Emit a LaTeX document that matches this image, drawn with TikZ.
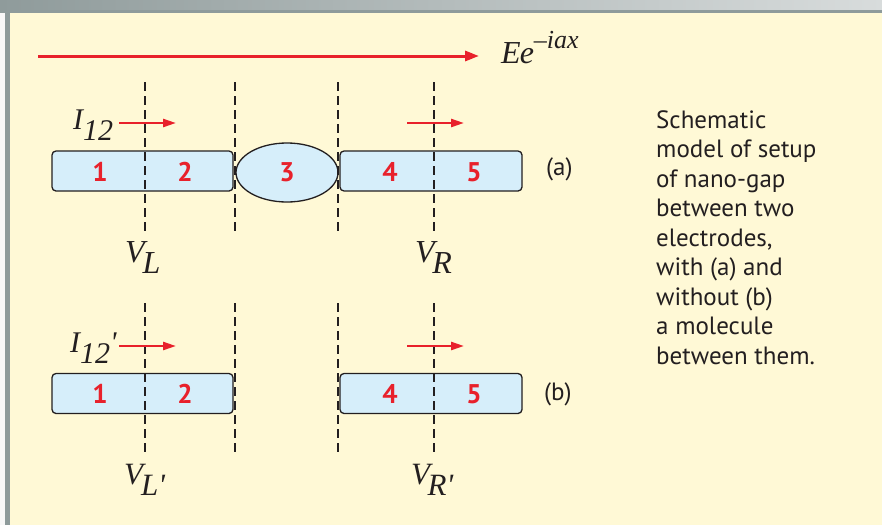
\documentclass[tikz,border=0pt]{standalone}
\usepackage{fontspec}
\setmainfont{Liberation Serif}
\newfontfamily\sansf{PT Sans}
\usetikzlibrary{arrows.meta,shapes.geometric}
\definecolor{bg}{HTML}{FFF9D6}
\definecolor{boxfill}{HTML}{D6EEFA}
\definecolor{redc}{HTML}{E8212B}
\definecolor{frame}{HTML}{8E9B9B}
\definecolor{frameL}{HTML}{8F9B9B}
\definecolor{frameR}{HTML}{D8DCDC}
\definecolor{edge}{HTML}{F8F8F8}
\definecolor{ink}{HTML}{231F20}
\begin{document}
\begin{tikzpicture}[x=1pt,y=-1pt,
  elec/.style={draw=ink,line width=1.3pt,fill=boxfill,rounded corners=4pt,inner sep=0pt,minimum height=40pt},
  mol/.style={ellipse,draw=ink,line width=1.3pt,fill=boxfill,inner sep=0pt,minimum width=102pt,minimum height=59pt},
  num/.style={text=redc,inner sep=0pt,font=\sansf\bfseries\fontsize{27}{27}\selectfont},
  probe/.style={draw=ink,line width=1.1pt,dash pattern=on 9pt off 5pt},
  cur/.style={draw=redc,line width=2.4pt,-{Triangle[length=13pt,width=8pt]}},
  wave/.style={draw=redc,line width=3pt,-{Triangle[length=14pt,width=10pt]}},
  mathlbl/.style={inner sep=0pt,anchor=base west,text=ink,font=\itshape\fontsize{#1}{#1}\selectfont},
  captext/.style={inner sep=0pt,text=ink,font=\sansf\fontsize{25}{29.5}\selectfont}
]
\path[use as bounding box] (0,0) rectangle (882,525);
% frame
\fill[edge] (0,0) rectangle (10,525);
\shade[left color=frameL,right color=frameR] (0,0) rectangle (882,9.6);
\fill[frame] (0,9.6) rectangle (882,13.3);
\fill[frame] (5,9.6) rectangle (10,525);
\fill[bg] (10,13.3) rectangle (882,525);

% incoming wave
\coordinate (w0) at (38,56);
\coordinate (w1) at (479,56);
\draw[wave] (w0) -- (w1);
\node[mathlbl=32] (wlbl) at (501,63) {E\kern-1pt e\raisebox{15pt}{\fontsize{26}{26}\selectfont \textendash iax}};

% row (a)
\node[elec,minimum width=181pt] (e12a) at (142.5,171) {};
\node[elec,minimum width=182pt] (e45a) at (431,171) {};
\node[mol] (m3) at (287,172.5) {};
% row (b)
\node[elec,minimum width=181pt] (e12b) at (142.5,393.5) {};
\node[elec,minimum width=182pt] (e45b) at (431,393.5) {};

% probe planes
\foreach \x in {145,235,338,434}{
  \draw[probe] (\x,82) -- (\x,231);
  \draw[probe] (\x,303) -- (\x,453);
}

% region numbers
\node[num] (n1a) at (100,172) {1};
\node[num] (n2a) at (185,172) {2};
\node[num] (n3a) at (287,172) {3};
\node[num] (n4a) at (390,172) {4};
\node[num] (n5a) at (474,172) {5};
\node[num] (n1b) at (100,394) {1};
\node[num] (n2b) at (185,394) {2};
\node[num] (n4b) at (390,394) {4};
\node[num] (n5b) at (474,394) {5};

% currents
\coordinate (c1s) at (119,123); \coordinate (c1e) at (176,123);
\coordinate (c2s) at (407,123); \coordinate (c2e) at (464,123);
\coordinate (c3s) at (119,346); \coordinate (c3e) at (176,346);
\coordinate (c4s) at (407,346); \coordinate (c4e) at (464,346);
\draw[cur] (c1s) -- (c1e);
\draw[cur] (c2s) -- (c2e);
\draw[cur] (c3s) -- (c3e);
\draw[cur] (c4s) -- (c4e);

% math labels
\node[mathlbl=30] (i12) at (73,129) {I\hspace{0pt}\raisebox{-11pt}{12}};
\node[mathlbl=30] (i12p) at (70,352) {I\hspace{0pt}\raisebox{-11pt}{12}\textquotesingle};
\node[mathlbl=32] (vl) at (125,262) {V\kern-2pt\raisebox{-11pt}{L}};
\node[mathlbl=32] (vr) at (415,262) {V\kern-2.5pt\raisebox{-11pt}{R}};
\node[mathlbl=31] (vlp) at (124,484) {V\kern-2pt\raisebox{-11pt}{L\textquotesingle}};
\node[mathlbl=31] (vrp) at (411,484) {V\kern-2.5pt\raisebox{-11pt}{R\textquotesingle}};

% case labels
\node[captext,anchor=base west] (la) at (546,175) {(a)};
\node[captext,anchor=base west] (lb) at (544,400) {(b)};

% caption
\node[captext,anchor=north west,align=left] (caption) at (656,110) {Schematic\\model of setup\\of nano-gap\\between two\\electrodes,\\with (a) and\\without (b)\\a molecule\\between them.};
\end{tikzpicture}
\end{document}
